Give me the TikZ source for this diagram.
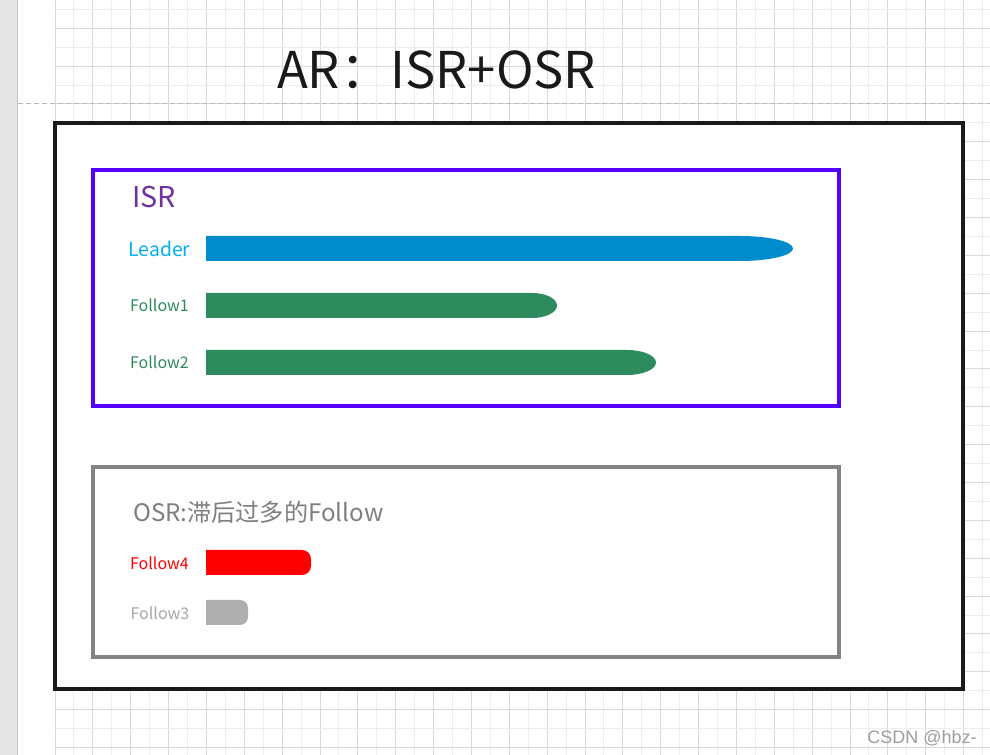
\documentclass[tikz,border=0pt]{standalone}
\usepackage{fontspec}
\setmainfont{Noto Sans CJK SC}
\newfontfamily\wmfont{Liberation Sans}
\definecolor{stripgray}{HTML}{E6E6E6}
\definecolor{stripline}{HTML}{C4C4C4}
\definecolor{gridlight}{HTML}{EDEDED}
\definecolor{griddark}{HTML}{D9D9D9}
\definecolor{dashgray}{HTML}{B8B8B8}
\definecolor{boxblack}{HTML}{1A1A1A}
\definecolor{isrpurple}{HTML}{5500FF}
\definecolor{isrtext}{HTML}{7030A0}
\definecolor{leadertext}{HTML}{00B0F0}
\definecolor{leaderbar}{HTML}{008BCD}
\definecolor{seagreen}{HTML}{2E8B5E}
\definecolor{osrgray}{HTML}{838383}
\definecolor{osrtext}{HTML}{7F7F7F}
\definecolor{f3text}{HTML}{A6A6A6}
\definecolor{f3bar}{HTML}{AFAFAF}
\definecolor{wmgray}{HTML}{9E9E9E}
\tikzset{
  frame/.style={line width=3pt},
  lbl/.style={inner sep=0pt, anchor=center, font=\fontsize{12}{14}\selectfont},
}
\begin{document}
\begin{tikzpicture}[x=0.75pt,y=-0.75pt]
\useasboundingbox (0,0) rectangle (990,755);
\fill[white] (0,0) rectangle (990,755);
% left strip
\fill[stripgray] (0,0) rectangle (17,755);
\draw[stripline, line width=0.8pt] (17.5,0) -- (17.5,755);
% grid
\foreach \k in {0,...,49} {
  \pgfmathsetmacro{\gx}{55+18.93*\k}
  \pgfmathtruncatemacro{\gpar}{mod(\k,2)}
  \ifnum\gpar=0
    \draw[griddark, line width=0.75pt] (\gx,0) -- (\gx,755);
  \else
    \draw[gridlight, line width=0.75pt] (\gx,0) -- (\gx,755);
  \fi
}
\foreach \k in {0,...,39} {
  \pgfmathsetmacro{\gy}{9.3+18.93*\k}
  \pgfmathtruncatemacro{\gpar}{mod(\k,2)}
  \ifnum\gpar=1
    \draw[griddark, line width=0.75pt] (55,\gy) -- (990,\gy);
  \else
    \draw[gridlight, line width=0.75pt] (55,\gy) -- (990,\gy);
  \fi
}
% dashed separator
\draw[dashgray, line width=0.75pt, dash pattern=on 4pt off 2pt] (18,104) -- (990,104);
% title
\node[inner sep=0pt, font=\fontsize{38}{42}\selectfont, text=black!90] (title) at (436.5,70) {AR：ISR+OSR};
% outer box
\fill[white] (55,123) rectangle (963,689);
\draw[boxblack, frame] (55,123) rectangle (963,689);
% ISR box
\draw[isrpurple, frame] (93,170) rectangle (839,406);
\node[inner sep=0pt, anchor=west, font=\fontsize{21.5}{24}\selectfont, text=isrtext] (isr) at (132,197) {ISR};
\node[lbl, text=leadertext, font=\fontsize{14.5}{16}\selectfont] (leader) at (159.5,249) {Leader};
\node[lbl, text=seagreen] (f1) at (159.5,305.5) {Follow1};
\node[lbl, text=seagreen] (f2) at (159.5,362.5) {Follow2};
% bars
\fill[leaderbar] (206,236) -- (740,236) arc[start angle=90, end angle=-90, x radius=39.75pt, y radius=9.375pt] -- (206,261) -- cycle;
\fill[seagreen] (206,293) -- (532,293) arc[start angle=90, end angle=-90, x radius=18.75pt, y radius=9.375pt] -- (206,318) -- cycle;
\fill[seagreen] (206,350) -- (627,350) arc[start angle=90, end angle=-90, x radius=21.75pt, y radius=9.375pt] -- (206,375) -- cycle;
% OSR box
\draw[osrgray, frame] (93,467) rectangle (839,657);
\node[inner sep=0pt, anchor=west, font=\fontsize{18.1}{22}\selectfont, text=osrtext] (osr) at (133,512) {OSR:滞后过多的Follow};
\node[lbl, text=red] (f4) at (159.5,563) {Follow4};
\node[lbl, text=f3text] (f3) at (160,613) {Follow3};
\fill[red] (206,550) -- (302,550) arc[start angle=90, end angle=0, radius=6.75pt] -- (311,566) arc[start angle=0, end angle=-90, radius=6.75pt] -- (206,575) -- cycle;
\fill[f3bar] (206,600) -- (240,600) arc[start angle=90, end angle=0, radius=6pt] -- (248,617) arc[start angle=0, end angle=-90, radius=6pt] -- (206,625) -- cycle;
% watermark
\node[inner sep=0pt, anchor=east, font=\wmfont\fontsize{13.5}{15}\selectfont, text=wmgray] (wm) at (977,738) {CSDN @hbz-};
\end{tikzpicture}
\end{document}
